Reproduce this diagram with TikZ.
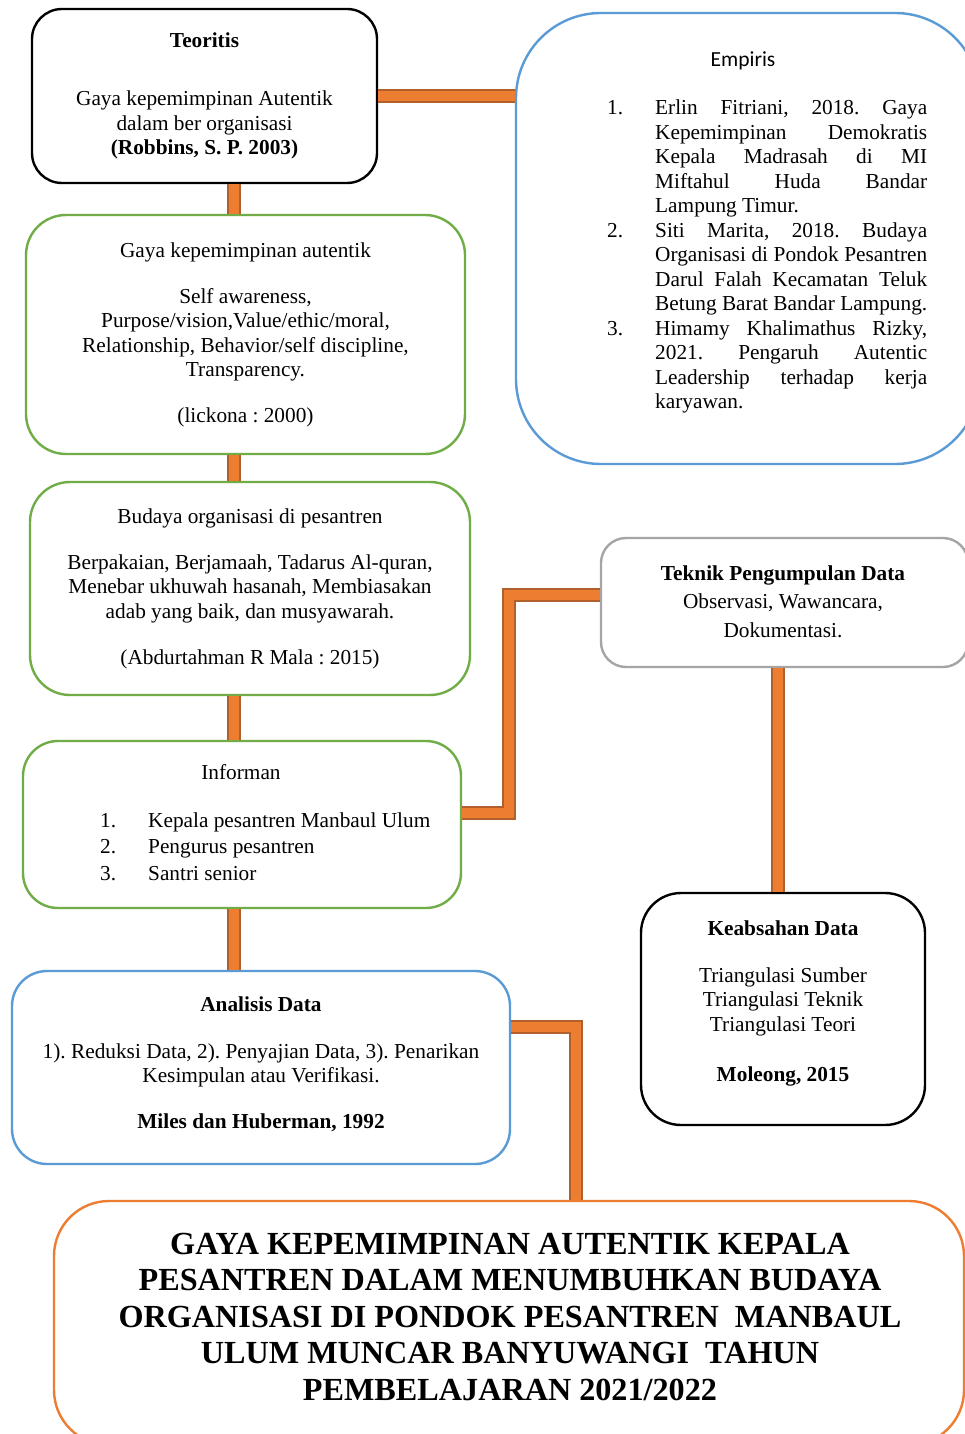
\documentclass[tikz,border=0pt]{standalone}
\usepackage{fontspec}
\setmainfont{Liberation Serif}
\newfontfamily\calibri{Carlito}
\usepackage{array}
\definecolor{cblue}{HTML}{5B9BD5}
\definecolor{cgreen}{HTML}{70AD47}
\definecolor{cgray}{HTML}{A5A5A5}
\definecolor{corange}{HTML}{ED7D31}
\definecolor{cdark}{HTML}{B0602A}
\newcommand\just[1]{\makebox[272pt][s]{#1}}
\frenchspacing
\begin{document}
\begin{tikzpicture}[x=1pt,y=-1pt,
  box/.style={draw, line width=2.4pt, fill=white, rectangle, inner sep=0pt},
  conn/.style={draw=cdark, line width=1.8pt, double=corange, double distance=9.5pt, line join=miter},
  txt/.style={inner sep=0pt, anchor=base, font=\fontsize{21.3}{24.5}\selectfont},
]
\useasboundingbox (0,0) rectangle (965,1434);
\fill[white] (0,0) rectangle (965,1434);
\begin{scope}
\clip (0,0) rectangle (965,1434);
% boxes
\node[box, draw=black, rounded corners=30pt, minimum width=345pt, minimum height=174pt] (teo) at (204.5,96) {};
\node[box, draw=cblue, rounded corners=85pt, minimum width=464pt, minimum height=451pt] (emp) at (748,238.5) {};
\node[box, draw=cgreen, rounded corners=40pt, minimum width=439pt, minimum height=239pt] (gaya) at (245.5,334.5) {};
\node[box, draw=cgreen, rounded corners=40pt, minimum width=440pt, minimum height=213pt] (bud) at (250,588.5) {};
\node[box, draw=cgray, rounded corners=25pt, minimum width=367pt, minimum height=129pt] (tek) at (784.5,602.5) {};
\node[box, draw=cgreen, rounded corners=35pt, minimum width=438pt, minimum height=167pt] (inf) at (242,824.5) {};
\node[box, draw=black, rounded corners=40pt, minimum width=284pt, minimum height=232pt] (kea) at (783,1009) {};
\node[box, draw=cblue, rounded corners=35pt, minimum width=498pt, minimum height=193pt] (ana) at (261,1067.5) {};
\node[box, draw=corange, rounded corners=55pt, minimum width=910pt, minimum height=244pt] (ttl) at (509,1323) {};
% connector coordinates
\coordinate (spine) at (234,0);
\coordinate (j1) at (509,813);
\coordinate (j2) at (509,595);
\coordinate (j3) at (576,1027);
\coordinate (spine2) at (778,0);
% connectors
\draw[conn] (teo.east) -- (teo.east -| emp.west);
\draw[conn] (spine |- teo.south) -- (spine |- gaya.north);
\draw[conn] (spine |- gaya.south) -- (spine |- bud.north);
\draw[conn] (spine |- bud.south) -- (spine |- inf.north);
\draw[conn] (spine |- inf.south) -- (spine |- ana.north);
\draw[conn] (inf.east |- j1) -- (j1) -- (j2) -- (j2 -| tek.west);
\draw[conn] (spine2 |- tek.south) -- (spine2 |- kea.north);
\draw[conn] (ana.east |- j3) -- (j3) -- (j3 |- ttl.north);
% texts
\node[txt] (teot) at (204.5,48) {\begin{tabular}[t]{@{}c@{}}\textbf{Teoritis}\\[33.5pt]
Gaya kepemimpinan Autentik\\ dalam ber organisasi\\ \textbf{(Robbins, S. P. 2003)}\end{tabular}};
\node[inner sep=0pt, anchor=base, font=\calibri\fontsize{21.5}{24.5}\selectfont] (empt) at (743,67) {Empiris};
\node[txt, anchor=base west] (empl) at (607,115) {\begin{tabular}[t]{@{}p{48pt}@{}l@{}}
1. & \just{Erlin Fitriani, 2018. Gaya}\\
 & \just{Kepemimpinan Demokratis}\\
 & \just{Kepala Madrasah di MI}\\
 & \just{Miftahul Huda Bandar}\\
 & Lampung Timur.\\
2. & \just{Siti Marita, 2018. Budaya}\\
 & \just{Organisasi di Pondok Pesantren}\\
 & \just{Darul Falah Kecamatan Teluk}\\
 & \just{Betung Barat Bandar Lampung.}\\
3. & \just{Himamy Khalimathus Rizky,}\\
 & \just{2021. Pengaruh Autentic}\\
 & \just{Leadership terhadap kerja}\\
 & karyawan.
\end{tabular}};
\node[txt] (gayat) at (245.5,257) {\begin{tabular}[t]{@{}c@{}}Gaya kepemimpinan autentik\\[21.5pt]
Self awareness,\\ Purpose/vision,Value/ethic/moral,\\ Relationship, Behavior/self discipline,\\ Transparency.\\[21.5pt]
(lickona : 2000)\end{tabular}};
\node[txt] (budt) at (250,523) {\begin{tabular}[t]{@{}c@{}}Budaya organisasi di pesantren\\[21.5pt]
Berpakaian, Berjamaah, Tadarus Al-quran,\\ Menebar ukhuwah hasanah, Membiasakan\\ adab yang baik, dan musyawarah.\\[21.5pt]
(Abdurtahman R Mala : 2015)\end{tabular}};
\node[txt] (tekt) at (783,580) {\begin{tabular}[t]{@{}c@{}}\textbf{Teknik Pengumpulan Data}\\[4pt]
Observasi, Wawancara,\\[4pt] Dokumentasi.\end{tabular}};
\node[txt] (inft) at (241,779) {Informan};
\node[txt, anchor=base west] (infl) at (100,827) {\begin{tabular}[t]{@{}p{48pt}@{}l@{}}
1. & Kepala pesantren Manbaul Ulum\\[2pt]
2. & Pengurus pesantren\\[2pt]
3. & Santri senior\end{tabular}};
\node[txt] (keat) at (783,935) {\begin{tabular}[t]{@{}c@{}}\textbf{Keabsahan Data}\\[22.5pt]
Triangulasi Sumber\\ Triangulasi Teknik\\ Triangulasi Teori\\[25.5pt]
\textbf{Moleong, 2015}\end{tabular}};
\node[txt] (anat) at (261,1011) {\begin{tabular}[t]{@{}c@{}}\textbf{Analisis Data}\\[22.5pt]
1). Reduksi Data, 2). Penyajian Data, 3). Penarikan\\ Kesimpulan atau Verifikasi.\\[21.5pt]
\textbf{Miles dan Huberman, 1992}\end{tabular}};
\node[inner sep=0pt, anchor=base, font=\bfseries\fontsize{32.2}{36.5}\selectfont] (ttlt) at (510,1254) {\begin{tabular}[t]{@{}c@{}}GAYA KEPEMIMPINAN AUTENTIK KEPALA\\
PESANTREN DALAM MENUMBUHKAN BUDAYA\\
ORGANISASI DI PONDOK PESANTREN\ \ MANBAUL\\
ULUM MUNCAR BANYUWANGI\ \ TAHUN\\
PEMBELAJARAN 2021/2022\end{tabular}};
\end{scope}
\end{tikzpicture}
\end{document}
